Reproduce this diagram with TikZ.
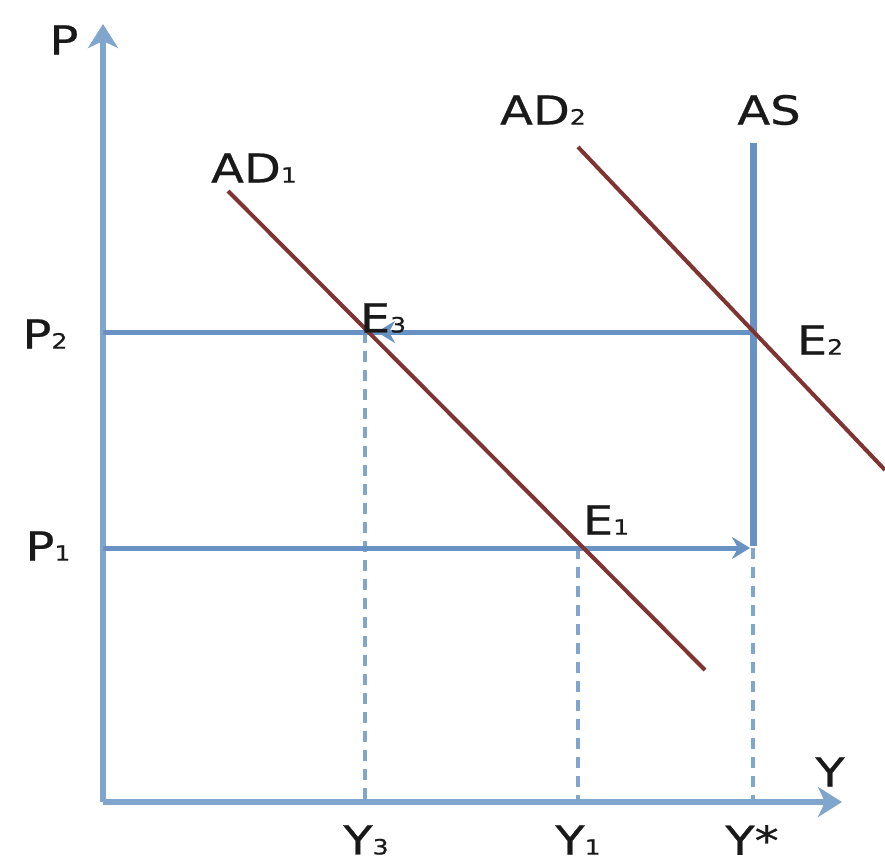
\documentclass[tikz,border=0pt]{standalone}
\usepackage{fontspec}
\setmainfont{DejaVu Sans}[FakeStretch=1.2,FakeBold=0.6]
\usetikzlibrary{arrows.meta}

\definecolor{axisblue}{RGB}{128,166,206}
\definecolor{lineblue}{RGB}{104,146,196}
\definecolor{adred}{RGB}{128,52,50}

\newcommand{\sub}[1]{{\fontsize{21}{21}\selectfont #1}}

\tikzset{
  axis/.style={line width=6.5pt, axisblue, -{Stealth[length=24pt,width=30pt,inset=7pt]}},
  level/.style={line width=5pt, lineblue},
  guide/.style={line width=3.5pt, axisblue, dash pattern=on 11pt off 8pt},
  adline/.style={line width=4pt, adred},
  lab/.style={font=\fontsize{40}{40}\selectfont, text=black!90, inner sep=0pt}
}

\begin{document}
\begin{tikzpicture}[x=1pt,y=-1pt]
        \useasboundingbox (0,0) rectangle (885,864);

        % === POINTS ===
        \coordinate (O) at (103,802);
        \coordinate (Ptop) at (103,24);
        \coordinate (Yend) at (842,802);
        \coordinate (P2) at (103,332);
        \coordinate (P1) at (103,548);
        \coordinate (E3) at (365,332);
        \coordinate (E1) at (578,548);
        \coordinate (E2) at (753,332);
        \coordinate (AStop) at (753,143);
        \coordinate (Y3) at (365,802);
        \coordinate (Y1) at (578,802);
        \coordinate (Ys) at (753,802);

        % === DASHED GUIDES ===
        \draw[guide] (E3) -- (Y3);
        \draw[guide] (E1) -- (Y1);
        \draw[guide] (E1 -| Ys) -- (Ys);

        % === AXIS ===
        \draw[axis] (O) -- (Ptop);
        \draw[axis] (O) -- (Yend);

        % === PRICE LEVELS ===
        \draw[level] (P2) -- (E2);
        \draw[level, -{Stealth[length=18pt,width=22pt,inset=6pt]}] (E2) -- ([xshift=12pt]E3);
        \draw[level, -{Stealth[length=18pt,width=22pt,inset=6pt]}] (P1) -- ([xshift=-3pt]E1 -| Ys);

        % === AS ===
        \draw[line width=7pt, lineblue] (AStop) -- ([yshift=2pt]E1 -| Ys);

        % === AD CURVES ===
        \draw[adline] (228,191) coordinate (AD1a) -- (705,670) coordinate (AD1b);
        \draw[adline] (578,147) coordinate (AD2a) -- (885,470) coordinate (AD2b);

        % === LABELS ===
        \node[lab] (labP) at (64,40) {P};
        \node[lab] (labP2) at (45,334) {P\sub{2}};
        \node[lab] (labP1) at (48,546) {P\sub{1}};
        \node[lab] (labY) at (830,772) {Y};
        \node[lab] (labY3) at (366,840) {Y\sub{3}};
        \node[lab] (labY1) at (578,840) {Y\sub{1}};
        \node[lab] (labYs) at (752,840) {Y*};
        \node[lab] (labAD1) at (254,168) {AD\sub{1}};
        \node[lab] (labAD2) at (543,110) {AD\sub{2}};
        \node[lab] (labAS) at (769,110) {AS};
        \node[lab] (labE3) at (383,318) {E\sub{3}};
        \node[lab] (labE1) at (606,520) {E\sub{1}};
        \node[lab] (labE2) at (820,340) {E\sub{2}};

    \end{tikzpicture}
\end{document}
